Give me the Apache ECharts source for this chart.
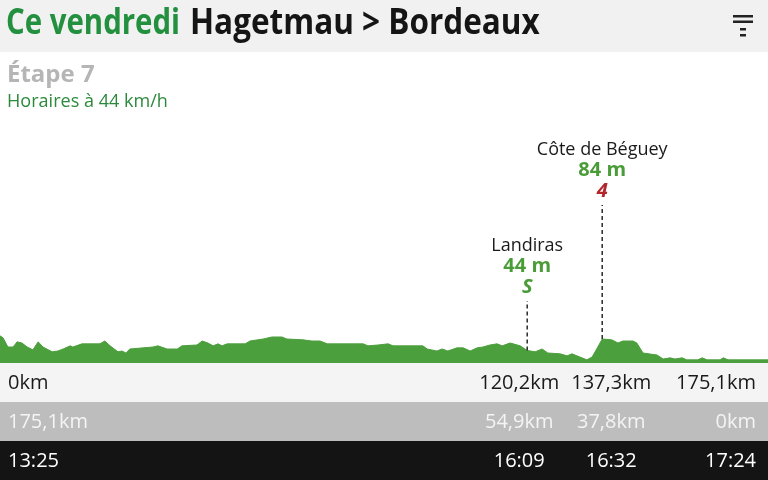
<!DOCTYPE html>
<html><head><meta charset="utf-8">
<script src="https://cdn.jsdelivr.net/npm/echarts@6/dist/echarts.min.js"></script>
<style>html,body{margin:0;padding:0;background:#fff}#c{width:768px;height:480px}</style>
</head><body><div id="c"></div>
<script>
// ---- data ----
const titleDay = 'Ce vendredi';
const titleRoute = 'Hagetmau > Bordeaux';
const stageLabel = 'Étape 7';
const subLabel = 'Horaires à 44 km/h';

const km = [0,0.7,1.8,3.0,3.9,5.0,6.2,7.5,8.7,9.8,11.9,13.2,14.4,16.0,16.6,18.7,22.8,23.9,25.1,26.9,27.8,28.7,29.6,34.9,36.0,38.1,40.4,41.5,44.9,46.1,47.4,48.6,49.7,50.6,51.8,55.9,57.0,60.0,62.0,64.3,65.4,69.1,71.1,73.0,74.6,82.8,83.9,86.2,88.5,89.6,96.4,97.4,99.6,100.8,102.1,104.2,105.6,107.2,108.8,110.1,111.7,113.3,114.5,116.3,117.0,118.6,120.2,122.0,123.6,124.9,127.7,129.3,130.4,132.2,133.8,135.0,136.3,137.3,139.5,140.9,142.0,144.3,145.2,146.6,149.8,151.2,152.8,153.9,155.5,156.6,159.1,160.1,161.2,164.2,164.9,166.0,175.1];
const elev = [95,88,56,56,74,70,56,46,74,56,39,42,49,60,56,67,67,77,60,39,42,35,49,56,60,49,49,60,63,77,70,60,67,60,67,67,77,84,91,91,84,81,77,77,67,67,60,63,67,60,60,49,42,49,42,53,53,42,53,56,63,67,60,70,67,60,44,39,49,35,32,25,32,21,11,21,56,84,81,70,77,77,70,35,28,14,18,14,18,11,11,18,11,11,18,11,11];

const summitNames = ['Landiras', 'Côte de Béguey'];
const summitKm = [120.2, 137.3];
const summitElev = [44, 84];
const summitCat = ['S', '4'];

const stopKm = [0, 120.2, 137.3, 175.1];
const kmLabels = ['0km', '120,2km', '137,3km', '175,1km'];
const remainLabels = ['175,1km', '54,9km', '37,8km', '0km'];
const timeLabels = ['13:25', '16:09', '16:32', '17:24'];

// ---- style / layout ----
const FONT = '"Open Sans", "Noto Sans", sans-serif';
const GREEN = '#4c9f3d';
const summitLevel = [0, 1];
const catColor = ['#4a9c38', '#b3262b'];
const stopNudge = [8, -8, 9, -12];
const stopAlign = ['left', 'center', 'center', 'right'];

const chart = echarts.init(document.getElementById('c'), null, {renderer: 'canvas'});

const profile = km.map((k, i) => [k, elev[i]]);
const summits = summitKm.map((k, i) => [k, summitElev[i]]);
const stops = stopKm.map(k => [k, 0]);

chart.setOption({
  animation: false,
  backgroundColor: '#ffffff',
  grid: {left: 0, right: 0, bottom: 117, top: 263},
  xAxis: {type: 'value', min: 0, max: 175.1, show: false},
  yAxis: {type: 'value', min: 0, max: 350, show: false},
  graphic: [
    {type: 'rect', z: -10, shape: {x: 0, y: 0, width: 768, height: 52}, style: {fill: '#f1f1f1'}},
    {type: 'rect', z: -10, shape: {x: 0, y: 363, width: 768, height: 39}, style: {fill: '#f4f4f4'}},
    {type: 'rect', z: -10, shape: {x: 0, y: 402, width: 768, height: 39}, style: {fill: '#bdbdbd'}},
    {type: 'rect', z: -10, shape: {x: 0, y: 441, width: 768, height: 39}, style: {fill: '#141414'}},
    {type: 'text', x: 6, y: 24, scaleX: 0.84, style: {text: titleDay, font: 'bold 35px ' + FONT, fill: '#23903f', verticalAlign: 'middle'}},
    {type: 'text', x: 190, y: 24, scaleX: 0.9, style: {text: titleRoute, font: 'bold 35px ' + FONT, fill: '#151515', verticalAlign: 'middle'}},
    {type: 'text', x: 7, y: 75, style: {text: stageLabel, font: 'bold 24px ' + FONT, fill: '#b5b5b5', verticalAlign: 'middle'}},
    {type: 'text', x: 7, y: 102, scaleX: 0.95, style: {text: subLabel, font: '19px ' + FONT, fill: '#2c8a3c', verticalAlign: 'middle'}},
    {type: 'rect', shape: {x: 733, y: 15, width: 20, height: 2.5}, style: {fill: '#222'}},
    {type: 'rect', shape: {x: 733, y: 20.5, width: 20, height: 2.5}, style: {fill: '#222'}},
    {type: 'rect', shape: {x: 740, y: 28, width: 6, height: 2.5}, style: {fill: '#222'}},
    {type: 'rect', shape: {x: 740, y: 34, width: 6, height: 2.5}, style: {fill: '#222'}}
  ],
  series: [
    {
      type: 'line', data: profile, showSymbol: false, smooth: false,
      lineStyle: {width: 1, color: GREEN},
      areaStyle: {color: GREEN, opacity: 1},
      z: 2
    },
    {
      type: 'custom', data: summits, z: 3,
      renderItem: function (params, api) {
        const i = params.dataIndex;
        const p = api.coord([api.value(0), api.value(1)]);
        const top = 301 - summitLevel[i] * 96;
        return {type: 'group', children: [
          {type: 'line', shape: {x1: p[0], y1: p[1], x2: p[0], y2: top},
           style: {stroke: '#2a2a2a', lineWidth: 1.5, lineDash: [4, 3]}},
          {type: 'text', x: p[0], y: top - 14, style: {text: summitCat[i], fill: catColor[i], font: 'italic bold 20px ' + FONT, align: 'center', verticalAlign: 'middle'}},
          {type: 'text', x: p[0], y: top - 35, style: {text: summitElev[i] + ' m', fill: '#4a9c38', font: 'bold 20px ' + FONT, align: 'center', verticalAlign: 'middle'}},
          {type: 'text', x: p[0], y: top - 55, style: {text: summitNames[i], fill: '#1a1a1a', font: '18px ' + FONT, align: 'center', verticalAlign: 'middle'}}
        ]};
      }
    },
    {
      type: 'custom', data: stops, z: 3,
      renderItem: function (params, api) {
        const i = params.dataIndex;
        const p = api.coord([api.value(0), 0]);
        const x = p[0] + stopNudge[i];
        const al = stopAlign[i];
        return {type: 'group', children: [
          {type: 'text', x: x, y: 383, style: {text: kmLabels[i], fill: '#1a1a1a', font: '20px ' + FONT, align: al, verticalAlign: 'middle'}},
          {type: 'text', x: x, y: 422, style: {text: remainLabels[i], fill: '#f4f4f4', font: '20px ' + FONT, align: al, verticalAlign: 'middle'}},
          {type: 'text', x: x, y: 461, style: {text: timeLabels[i], fill: '#ffffff', font: '20px ' + FONT, align: al, verticalAlign: 'middle'}}
        ]};
      }
    }
  ]
});
</script>
</body></html>
